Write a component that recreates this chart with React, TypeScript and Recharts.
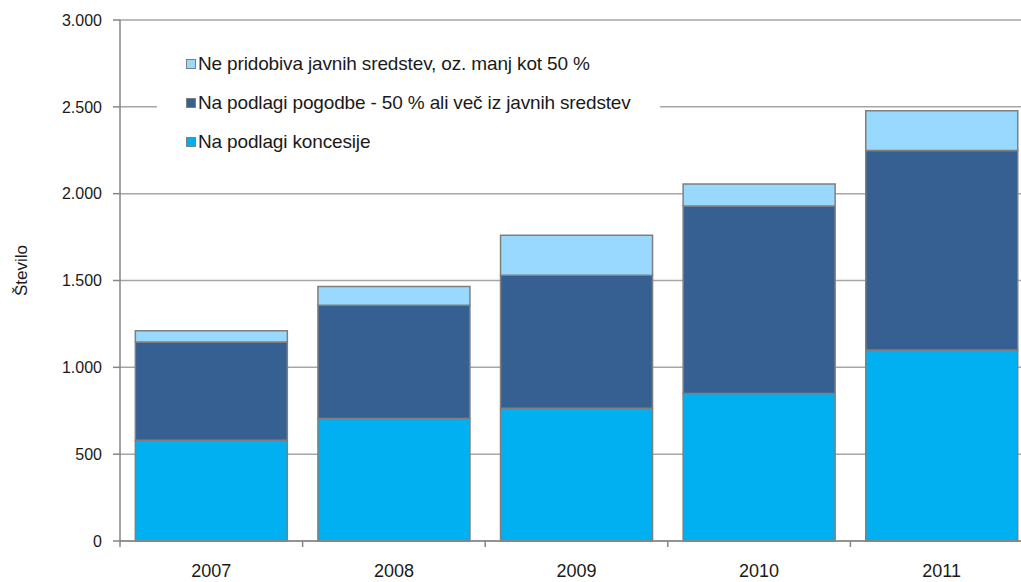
import React from 'react';
import { BarChart, Bar, XAxis, YAxis, CartesianGrid, Legend } from 'recharts';

const categories = ['2007', '2008', '2009', '2010', '2011'];
const koncesija = [580, 705, 765, 850, 1100];
const pogodba = [566, 652, 765, 1079, 1149];
const nePridobiva = [64, 108, 231, 127, 228];
const yTicks = [0, 500, 1000, 1500, 2000, 2500, 3000];

const seriesNames = {
  koncesija: 'Na podlagi koncesije',
  pogodba: 'Na podlagi pogodbe - 50 % ali več iz javnih sredstev',
  nePridobiva: 'Ne pridobiva javnih sredstev, oz. manj kot 50 %',
};

const data = categories.map((c, i) => ({
  year: c,
  koncesija: koncesija[i],
  pogodba: pogodba[i],
  nePridobiva: nePridobiva[i],
}));

const FONT = '"Liberation Sans", Arial, sans-serif';
const CHART_W = 1040;
const MARGIN_R = 7;
const YAXIS_W = 120;
const HALF_BAND = (CHART_W - MARGIN_R - YAXIS_W) / categories.length / 2;

const fmt = (v: number) => v.toLocaleString('de-DE');

const XTick = (props: any) => {
  const { x, y, payload } = props;
  return (
    <g>
      <line x1={x - HALF_BAND} x2={x - HALF_BAND} y1={y} y2={y + 6} stroke="#868686" strokeWidth={1.5} />
      <text x={x} y={y + 36} textAnchor="middle" fontSize={18} fill="#1a1a1a" fontFamily={FONT}>
        {payload.value}
      </text>
    </g>
  );
};

const renderLegend = (props: any) => {
  const items = [...(props.payload || [])].reverse();
  return (
    <div style={{ background: '#fff', width: 503, height: 117, fontFamily: FONT }}>
      {items.map((it: any) => (
        <div key={it.value} style={{ height: 39, display: 'flex', alignItems: 'center', paddingLeft: 29 }}>
          <span
            style={{
              display: 'inline-block',
              width: 8,
              height: 8,
              background: it.color,
              border: '1px solid #7f7f7f',
              marginRight: 2,
            }}
          />
          <span style={{ fontSize: 19, color: '#1a1a1a', letterSpacing: -0.15, whiteSpace: 'nowrap' }}>{it.value}</span>
        </div>
      ))}
    </div>
  );
};

export default function App() {
  return (
    <div style={{ position: 'absolute', left: 0, top: 0, width: 1021, height: 582, overflow: 'hidden', background: '#fff' }}>
      <BarChart
        width={CHART_W}
        height={582}
        data={data}
        margin={{ top: 20, right: MARGIN_R, bottom: 0, left: 0 }}
        barCategoryGap="8.4%"
      >
        <CartesianGrid horizontal vertical={false} stroke="#a6a6a6" strokeWidth={1.5} />
        <XAxis
          dataKey="year"
          height={41}
          tickSize={0}
          tickMargin={0}
          tickLine={false}
          axisLine={{ stroke: '#868686', strokeWidth: 1.5 }}
          tick={<XTick />}
          interval={0}
        />
        <YAxis
          width={YAXIS_W}
          domain={[0, 3000]}
          ticks={yTicks}
          tickFormatter={fmt}
          tickSize={7}
          tickMargin={11}
          axisLine={{ stroke: '#868686', strokeWidth: 1.5 }}
          tickLine={{ stroke: '#868686', strokeWidth: 1.5 }}
          tick={{ fontSize: 16, fill: '#1a1a1a', fontFamily: FONT }}
          label={{
            value: 'Število',
            angle: -90,
            position: 'insideLeft',
            offset: 0,
            dx: 21,
            dy: -10,
            style: { fontSize: 17, fill: '#1a1a1a', fontFamily: FONT, textAnchor: 'middle' },
          }}
        />
        <Legend
          layout="horizontal"
          verticalAlign="middle"
          align="center"
          content={renderLegend}
          wrapperStyle={{ position: 'absolute', left: 157, top: 44, width: 503, height: 117 }}
        />
        <Bar dataKey="koncesija" name={seriesNames.koncesija} stackId="a" fill="#00b0f0" stroke="#7f7f7f" strokeWidth={1.5} isAnimationActive={false} />
        <Bar dataKey="pogodba" name={seriesNames.pogodba} stackId="a" fill="#366092" stroke="#7f7f7f" strokeWidth={1.5} isAnimationActive={false} />
        <Bar dataKey="nePridobiva" name={seriesNames.nePridobiva} stackId="a" fill="#99d9ff" stroke="#7f7f7f" strokeWidth={1.5} isAnimationActive={false} />
      </BarChart>
    </div>
  );
}
